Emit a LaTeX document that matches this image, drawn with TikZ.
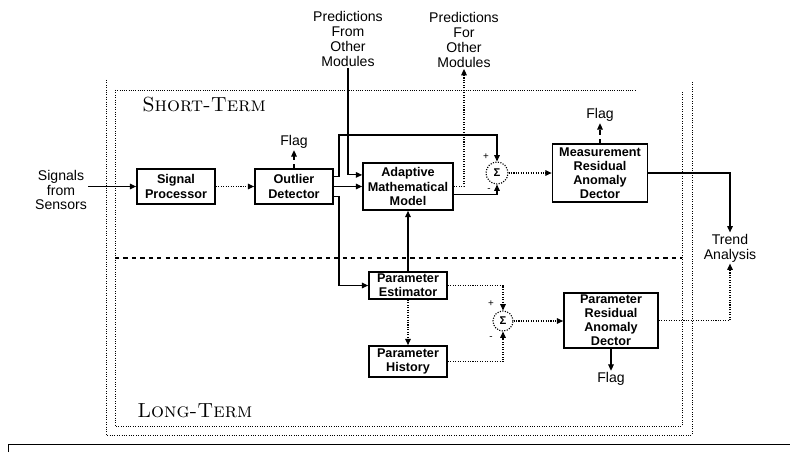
\documentclass[tikz,border=0pt]{standalone}
\usepackage{fontspec}
\usepackage{tikz}
\usetikzlibrary{arrows.meta}
\newfontfamily\arialfont{Liberation Sans}

\tikzset{
  lbl/.style={font=\arialfont\fontsize{10}{10.5}\selectfont, align=center, inner sep=1pt},
  blk/.style={draw, line width=1.2pt, font=\arialfont\bfseries\fontsize{9}{10}\selectfont, align=center, inner sep=0pt},
  sumnode/.style={draw, circle, densely dotted, line width=0.8pt, inner sep=0pt, minimum size=0.55cm, font=\arialfont\bfseries\fontsize{8}{8}\selectfont},
  sgn/.style={font=\arialfont\fontsize{7}{7}\selectfont, inner sep=0pt},
  arr/.style={line width=0.75pt, -{Triangle[length=4.5pt,width=4pt]}},
  farr/.style={arr, densely dotted},
  region/.style={font=\fontsize{14.5}{15}\selectfont, anchor=west, inner sep=0pt},
}

\begin{document}
\begin{tikzpicture}[x=0.025cm,y=-0.025cm]
\path[use as bounding box] (0,0) rectangle (790,453);
% frames
\draw[densely dotted, line width=0.7pt] (106,80) -- (106,435) -- (692,435) -- (692,82);
\draw[densely dotted, line width=0.6pt] (115,90) -- (635,90);
\draw[densely dotted, line width=0.7pt] (115,90) -- (115,426) -- (682,426) -- (682,92);
\draw[dashed, line width=1pt] (115,258) -- (682,258);
\draw[line width=0.6pt] (8,452) -- (8,444) -- (790,444);
\node[region] (st) at (142,105) {\textsc{Short-Term}};
\node[region] (lt) at (137,411) {\textsc{Long-Term}};

% short-term blocks
\node[lbl] (sig) at (61,190) {Signals\\from\\Sensors};
\node[blk, minimum width=1.95cm, minimum height=0.875cm] (sp) at (176,186.5) {Signal\\Processor};
\node[blk, minimum width=1.95cm, minimum height=0.875cm] (od) at (294,186.5) {Outlier\\Detector};
\node[blk, minimum width=2.25cm, minimum height=1.175cm] (amm) at (408,186.5) {Adaptive\\Mathematical\\Model};
\node[sumnode] (s1) at (497,173) {Σ};
\node[blk, minimum width=2.375cm, minimum height=1.45cm] (mrad) at (600,173) {Measurement\\Residual\\Anomaly\\Dector};
\node[lbl] (flag0) at (294,142) {Flag};
\node[lbl] (flag1) at (600,115) {Flag};
\node[lbl] (pfrom) at (348,39) {Predictions\\From\\Other\\Modules};
\node[lbl] (pfor) at (464,40) {Predictions\\For\\Other\\Modules};
\node[lbl] (trend) at (730,248) {Trend\\Analysis};
\node[sgn] (p1) at (486,157) {+};
\node[sgn] (m1) at (489,190) {-};

% long-term blocks
\node[blk, minimum width=1.95cm, minimum height=0.675cm] (pe) at (408,285.5) {Parameter\\Estimator};
\node[blk, minimum width=1.95cm, minimum height=0.775cm] (ph) at (408,361.5) {Parameter\\History};
\node[sumnode, minimum size=0.5cm] (s2) at (503,321) {Σ};
\node[blk, minimum width=2.35cm, minimum height=1.375cm] (prad) at (611,320.5) {Parameter\\Residual\\Anomaly\\Dector};
\node[lbl] (flag2) at (611,379) {Flag};
\node[sgn] (p2) at (491,304) {+};
\node[sgn] (m2) at (491,338) {-};

\coordinate (ja) at (339,135);

% connectors
\draw[arr] (sig.east |- sp.west) -- (sp.west);
\draw[farr] (sp.east) -- (od.west);
\draw[arr] (od.east) -- (amm.west);
\draw[arr] ([yshift=0.25cm]od.east) -| (ja) -| (s1.north);
\draw[arr] ([yshift=-0.25cm]od.east) -| (ja |- pe.west) -- (pe.west);
\draw[arr] (pfrom.south) |- ([yshift=0.29cm]amm.west);
\draw[farr] (amm.east) -| (pfor.south);
\draw[arr] ([yshift=-0.2cm]amm.east) -| (s1.south);
\draw[farr] (s1.east) -- (mrad.west |- s1.east);
\draw[arr, dashed] (od.north) -- (flag0.south);
\draw[arr, dashed] (mrad.north) -- (flag1.south);
\draw[arr] (mrad.east) -| (trend.north);
\draw[farr] (prad.east) -| (trend.south);
\draw[arr] (pe.north) -- (amm.south);
\draw[farr] (pe.south) -- (ph.north);
\draw[farr] (pe.east) -| (s2.north);
\draw[farr] (ph.east) -| (s2.south);
\draw[farr] (s2.east) -- (prad.west |- s2.east);
\draw[arr] (prad.south) -- (flag2.north);
\end{tikzpicture}
\end{document}
